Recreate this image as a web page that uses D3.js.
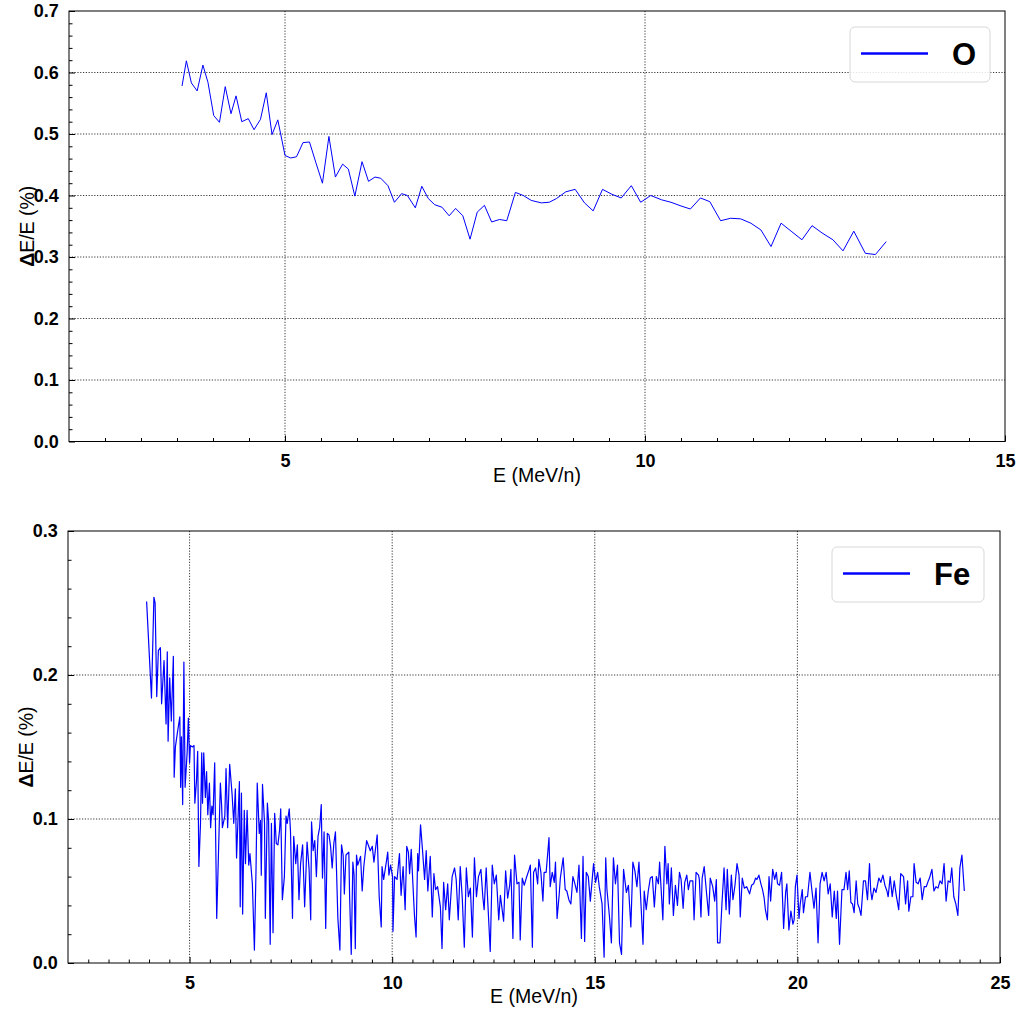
<!DOCTYPE html>
<html><head><meta charset="utf-8">
<script src="https://cdn.jsdelivr.net/npm/d3@7"></script>
<style>
body{margin:0;background:#fff;}
svg{display:block;font-family:"Liberation Sans",Arial,sans-serif;}
</style></head>
<body><svg id="c" width="1021" height="1009"></svg>
<script>
// ---------- data ----------
const oEnergy = [3.57,3.63,3.70,3.78,3.86,3.93,4.01,4.09,4.17,4.25,4.32,4.40,4.49,4.57,4.66,4.74,4.82,4.90,5.00,5.08,5.16,5.25,5.34,5.43,5.52,5.61,5.70,5.80,5.88,5.97,6.07,6.16,6.25,6.33,6.43,6.52,6.62,6.70,6.81,6.90,6.99,7.08,7.18,7.28,7.37,7.47,7.57,7.67,7.77,7.87,7.98,8.08,8.20,8.31,8.42,8.56,8.67,8.77,8.90,9.03,9.16,9.28,9.41,9.54,9.67,9.81,9.94,10.08,10.23,10.36,10.50,10.63,10.77,10.90,11.05,11.19,11.33,11.47,11.61,11.75,11.89,12.04,12.18,12.32,12.46,12.61,12.75,12.90,13.06,13.20,13.35];
const oValues = [0.578,0.619,0.583,0.570,0.612,0.584,0.530,0.519,0.577,0.533,0.562,0.520,0.525,0.507,0.524,0.567,0.499,0.523,0.465,0.461,0.463,0.486,0.487,0.453,0.420,0.496,0.430,0.451,0.443,0.399,0.455,0.423,0.430,0.428,0.416,0.389,0.403,0.400,0.380,0.415,0.395,0.385,0.381,0.367,0.379,0.367,0.329,0.373,0.384,0.357,0.361,0.359,0.405,0.400,0.392,0.388,0.389,0.395,0.406,0.410,0.388,0.375,0.410,0.402,0.396,0.416,0.389,0.400,0.393,0.389,0.383,0.378,0.396,0.390,0.359,0.363,0.362,0.355,0.344,0.317,0.355,0.341,0.328,0.351,0.339,0.328,0.310,0.342,0.306,0.304,0.325];

const feEnergy = [3.94,4.06,4.12,4.15,4.19,4.23,4.28,4.31,4.37,4.42,4.45,4.47,4.51,4.55,4.60,4.62,4.65,4.70,4.76,4.78,4.80,4.83,4.86,4.89,4.94,4.97,5.00,5.02,5.07,5.11,5.13,5.17,5.20,5.23,5.27,5.30,5.32,5.35,5.39,5.42,5.45,5.49,5.52,5.55,5.58,5.62,5.67,5.70,5.76,5.79,5.81,5.87,5.90,5.94,5.99,6.05,6.09,6.13,6.16,6.23,6.25,6.28,6.31,6.35,6.38,6.42,6.46,6.49,6.55,6.60,6.64,6.67,6.72,6.75,6.77,6.80,6.85,6.87,6.92,6.95,6.99,7.02,7.06,7.10,7.14,7.18,7.22,7.25,7.29,7.34,7.38,7.41,7.46,
7.49,7.54,7.57,7.62,7.66,7.70,7.74,7.79,7.84,7.90,7.95,7.99,8.01,8.05,8.09,8.13,8.17,8.21,8.25,8.28,8.32,8.36,8.40,8.44,8.48,8.52,8.56,8.60,8.66,8.71,8.75,8.79,8.82,8.86,8.93,8.95,8.99,9.03,9.06,9.09,9.12,9.15,9.22,9.26,9.30,9.37,9.41,9.46,9.51,9.55,9.63,9.68,9.73,9.75,9.79,9.86,9.89,9.92,9.96,10.01,10.02,10.06,10.12,10.18,10.22,10.27,10.32,10.36,10.40,10.43,10.47,10.55,10.59,10.63,10.65,10.70,10.75,10.80,10.84,10.88,10.94,10.99,11.03,11.07,11.12,11.19,11.23,11.27,11.32,11.37,11.41,11.48,11.54,11.58,11.63,11.68,11.73,11.78,11.83,11.88,11.93,11.98,12.03,12.08,12.13,12.19,12.24,12.27,12.32,12.36,12.42,12.47,12.52,12.57,12.63,12.67,12.75,12.80,12.85,12.90,12.93,12.98,13.02,13.08,13.13,13.16,13.21,13.26,13.31,13.38,13.41,13.46,13.49,13.54,13.59,13.62,13.67,13.72,13.75,13.80,13.87,13.90,13.95,14.00,14.03,14.07,14.12,14.15,14.22,14.27,14.31,14.36,14.41,14.46,14.51,14.56,14.61,14.67,14.71,14.75,14.79,14.84,14.89,14.97,15.02,15.07,15.11,15.18,15.23,15.27,15.30,15.36,15.41,15.46,15.51,15.56,15.61,15.66,15.71,15.78,15.83,15.89,15.94,15.99,16.04,16.09,16.14,16.19,16.22,16.27,16.32,16.37,16.42,16.47,16.52,16.57,16.60,16.63,16.68,16.73,16.78,16.81,16.84,16.89,16.94,16.99,17.04,17.09,17.13,17.18,17.22,17.27,17.31,17.35,17.42,17.45,17.50,17.56,17.58,17.62,17.65,17.70,17.75,17.81,17.85,17.91,17.96,18.00,18.03,18.09,18.14,18.19,18.24,18.27,18.32,18.37,18.41,18.46,18.51,18.56,18.59,18.64,18.69,18.75,18.82,18.87,18.92,18.97,19.00,19.05,19.10,19.14,19.18,19.21,19.26,19.30,19.34,19.39,19.44,19.48,19.51,19.56,19.61,19.66,19.71,19.74,19.79,19.84,19.89,19.92,19.95,19.99,20.04,20.07,20.12,20.15,20.20,20.25,20.31,20.36,20.41,20.46,20.51,20.56,20.61,20.66,20.71,20.76,20.81,20.86,20.91,20.96,20.99,21.04,21.10,21.15,21.20,21.24,21.28,21.32,21.36,21.40,21.45,21.49,21.53,21.57,21.63,21.68,21.73,21.78,21.81,21.84,21.89,21.94,22.01,22.06,22.11,22.16,22.21,22.24,22.29,22.34,22.39,22.44,22.50,22.55,22.62,22.67,22.72,22.75,22.80,22.85,22.88,22.93,22.98,23.03,23.08,23.13,23.18,23.23,23.26,23.32,23.37,23.42,23.47,23.52,23.57,23.62,23.67,23.72,23.77,23.81,23.86,23.91,23.96,24.01,24.06,24.12];
const feValues = [0.251,0.184,0.254,0.250,0.185,0.217,0.219,0.180,0.210,0.166,0.216,0.154,0.198,0.168,0.213,0.129,0.150,0.160,0.171,0.122,0.157,0.110,0.209,0.122,0.146,0.170,0.139,0.151,0.150,0.151,0.111,0.126,0.147,0.067,0.097,0.146,0.111,0.146,0.115,0.133,0.103,0.125,0.094,0.109,0.103,0.139,0.031,0.062,0.125,0.110,0.094,0.102,0.135,0.094,0.138,0.117,0.097,0.121,0.073,0.126,0.039,0.118,0.034,0.106,0.069,0.106,0.068,0.076,0.055,0.009,0.065,0.125,0.090,0.099,0.061,0.124,0.097,0.031,0.111,0.099,0.013,0.097,0.021,0.104,0.083,0.082,0.092,0.107,0.044,0.060,0.102,0.097,0.107,
0.092,0.031,0.088,0.069,0.082,0.044,0.069,0.082,0.039,0.084,0.065,0.030,0.098,0.078,0.085,0.060,0.088,0.094,0.110,0.059,0.091,0.024,0.090,0.089,0.081,0.066,0.083,0.091,0.031,0.009,0.082,0.075,0.048,0.075,0.077,0.046,0.006,0.070,0.061,0.010,0.075,0.068,0.074,0.050,0.067,0.085,0.082,0.078,0.081,0.070,0.089,0.046,0.025,0.067,0.058,0.071,0.077,0.061,0.068,0.060,0.022,0.060,0.058,0.076,0.047,0.067,0.037,0.081,0.077,0.062,0.079,0.033,0.018,0.076,0.064,0.096,0.078,0.058,0.078,0.050,0.074,0.032,0.062,0.051,0.053,0.039,0.010,0.056,0.037,0.055,0.030,0.060,0.066,0.058,0.030,0.067,0.045,0.011,0.066,0.046,0.052,0.018,0.073,0.046,0.060,0.065,0.045,0.037,0.066,0.042,0.008,0.068,0.055,0.061,0.030,0.047,0.029,0.064,0.045,0.054,0.065,0.017,0.075,0.055,0.056,0.016,0.059,0.054,0.059,0.065,0.068,0.011,0.063,0.066,0.055,0.072,0.063,0.043,0.063,0.063,0.087,0.053,0.063,0.056,0.070,0.031,0.047,0.059,0.073,0.051,0.050,0.044,0.041,0.060,0.055,0.049,0.068,0.017,0.074,0.015,0.063,0.060,0.043,0.069,0.056,0.063,0.053,0.041,0.004,0.073,0.051,0.033,0.014,0.073,0.055,0.068,0.014,0.006,0.065,0.049,0.054,0.025,0.070,0.064,0.053,0.070,0.041,0.013,0.050,0.037,0.050,0.059,0.060,0.039,0.060,0.055,0.070,0.055,0.030,0.081,0.055,0.069,0.041,0.066,0.033,0.054,0.040,0.063,0.058,0.038,0.056,0.061,0.051,0.057,0.057,0.030,0.063,0.061,0.058,0.032,0.059,0.067,0.051,0.033,0.059,0.053,0.043,0.058,0.014,0.014,0.042,0.066,0.037,0.065,0.034,0.061,0.044,0.054,0.069,0.061,0.032,0.059,0.052,0.053,0.048,0.054,0.055,0.059,0.058,0.061,0.055,0.051,0.045,0.037,0.030,0.060,0.043,0.065,0.058,0.063,0.055,0.054,0.063,0.024,0.049,0.055,0.023,0.036,0.027,0.030,0.053,0.061,0.031,0.041,0.051,0.035,0.046,0.046,0.063,0.050,0.038,0.052,0.014,0.055,0.063,0.057,0.063,0.048,0.055,0.032,0.050,0.031,0.050,0.013,0.051,0.051,0.063,0.051,0.064,0.042,0.041,0.035,0.057,0.041,0.038,0.033,0.057,0.057,0.044,0.069,0.050,0.044,0.052,0.049,0.059,0.056,0.061,0.054,0.050,0.046,0.060,0.046,0.057,0.047,0.037,0.062,0.060,0.041,0.057,0.036,0.046,0.046,0.069,0.056,0.055,0.059,0.044,0.053,0.053,0.057,0.059,0.065,0.050,0.053,0.052,0.057,0.055,0.069,0.043,0.057,0.056,0.066,0.046,0.041,0.033,0.066,0.075,0.050];

const topXTicks = [5, 10, 15];
const topYTicks = [0.0, 0.1, 0.2, 0.3, 0.4, 0.5, 0.6, 0.7];
const botXTicks = [5, 10, 15, 20, 25];
const botYTicks = [0.0, 0.1, 0.2, 0.3];
const legendTop = "O";
const legendBot = "Fe";
const xLabel = "E (MeV/n)";

// ---------- drawing ----------
const svg = d3.select("#c");

function panel(cfg) {
  const {left, top, right, bottom, xDomain, yDomain, xTicks, yTicks, xMinor, yMinor,
         energy, values, legend, legendBox, lw} = cfg;
  const x = d3.scaleLinear().domain(xDomain).range([left, right]);
  const y = d3.scaleLinear().domain(yDomain).range([bottom, top]);
  const g = svg.append("g");

  // grid
  const gridX = xTicks.filter(t => t > xDomain[0] && t < xDomain[1]);
  const gridY = yTicks.filter(t => t > yDomain[0] && t < yDomain[1]);
  g.selectAll(".gx").data(gridX).join("line")
    .attr("x1", d => x(d)).attr("x2", d => x(d)).attr("y1", top).attr("y2", bottom)
    .attr("stroke", "#222").attr("stroke-width", 0.9).attr("stroke-dasharray", "1.2,1.6");
  g.selectAll(".gy").data(gridY).join("line")
    .attr("y1", d => y(d)).attr("y2", d => y(d)).attr("x1", left).attr("x2", right)
    .attr("stroke", "#222").attr("stroke-width", 0.9).attr("stroke-dasharray", "1.2,1.6");

  // data line
  const pts = energy.map((e, i) => [e, values[i]]);
  g.append("path").datum(pts)
    .attr("fill", "none").attr("stroke", "#0000ff").attr("stroke-width", lw)
    .attr("stroke-linejoin", "round")
    .attr("d", d3.line().x(d => x(d[0])).y(d => y(d[1])));

  // axes (ticks inward)
  const xAxis = d3.axisBottom(x).tickValues(xTicks).tickSize(-6).tickPadding(12).tickFormat(d3.format("d"));
  const xAxisMinor = d3.axisBottom(x).tickValues(xMinor).tickSize(-3.5).tickFormat("");
  const yAxis = d3.axisLeft(y).tickValues(yTicks).tickSize(-6).tickPadding(12).tickFormat(d3.format(".1f"));
  const yAxisMinor = d3.axisLeft(y).tickValues(yMinor).tickSize(-3.5).tickFormat("");

  const ax = [
    g.append("g").attr("transform", `translate(0,${bottom})`).call(xAxisMinor),
    g.append("g").attr("transform", `translate(${left},0)`).call(yAxisMinor),
    g.append("g").attr("transform", `translate(0,${bottom})`).call(xAxis),
    g.append("g").attr("transform", `translate(${left},0)`).call(yAxis)
  ];
  ax.forEach(a => {
    a.select(".domain").remove();
    a.selectAll(".tick line").attr("stroke", "#000").attr("stroke-width", 1);
    a.selectAll("text").attr("fill", "#000").attr("font-size", 18).attr("font-weight", "bold")
      .attr("font-family", "Liberation Sans, Arial, sans-serif");
  });
  ax[2].selectAll("text").attr("dy", "0.75em");
  ax[3].selectAll("text").attr("dx", "0.1em");

  // frame
  g.append("rect").attr("x", left).attr("y", top).attr("width", right - left).attr("height", bottom - top)
    .attr("fill", "none").attr("stroke", "#000").attr("stroke-width", 1);

  // axis labels
  g.append("text").attr("x", (left + right) / 2).attr("y", bottom + 40)
    .attr("text-anchor", "middle").attr("font-size", 19.5).text(xLabel);
  const yl = g.append("text")
    .attr("transform", `translate(${left - 35},${(top + bottom) / 2}) rotate(-90)`)
    .attr("text-anchor", "middle").attr("font-size", 19.5);
  yl.append("tspan").attr("font-weight", "bold").text("Δ");
  yl.append("tspan").text("E/E (%)");

  // legend
  const [lx, ly, lwid, lh] = legendBox;
  g.append("rect").attr("x", lx).attr("y", ly).attr("width", lwid).attr("height", lh)
    .attr("rx", 5).attr("fill", "#fff").attr("fill-opacity", 0.85).attr("stroke", "#d8d8d8").attr("stroke-width", 1);
  g.append("line").attr("x1", lx + 11).attr("x2", lx + 78).attr("y1", ly + lh / 2 - 1).attr("y2", ly + lh / 2 - 1)
    .attr("stroke", "#0000ff").attr("stroke-width", 2.5);
  g.append("text").attr("x", lx + 102).attr("y", ly + lh / 2 + 10.5)
    .attr("font-size", 31).attr("font-weight", "bold").text(legend);
}

const topMinorX = d3.range(2.5, 15, 0.5).filter(v => Math.abs(v - Math.round(v / 5) * 5) > 1e-6);
const topMinorY = d3.range(0.02, 0.7, 0.02).filter(v => Math.abs(v * 10 - Math.round(v * 10)) > 1e-6);
const botMinorX = d3.range(2.5, 25, 0.5).filter(v => Math.abs(v - Math.round(v / 5) * 5) > 1e-6);
const botMinorY = d3.range(0.02, 0.3, 0.02).filter(v => Math.abs(v * 10 - Math.round(v * 10)) > 1e-6);

panel({left: 69, top: 11, right: 1005, bottom: 441.5, xDomain: [2, 15], yDomain: [0, 0.7],
  xTicks: topXTicks, yTicks: topYTicks, xMinor: topMinorX, yMinor: topMinorY,
  energy: oEnergy, values: oValues, legend: legendTop, legendBox: [850, 27, 140, 55], lw: 1});

panel({left: 68, top: 531, right: 1000, bottom: 963, xDomain: [2, 25], yDomain: [0, 0.3],
  xTicks: botXTicks, yTicks: botYTicks, xMinor: botMinorX, yMinor: botMinorY,
  energy: feEnergy, values: feValues, legend: legendBot, legendBox: [832, 547, 152, 55], lw: 1.2});
</script>
</body></html>
